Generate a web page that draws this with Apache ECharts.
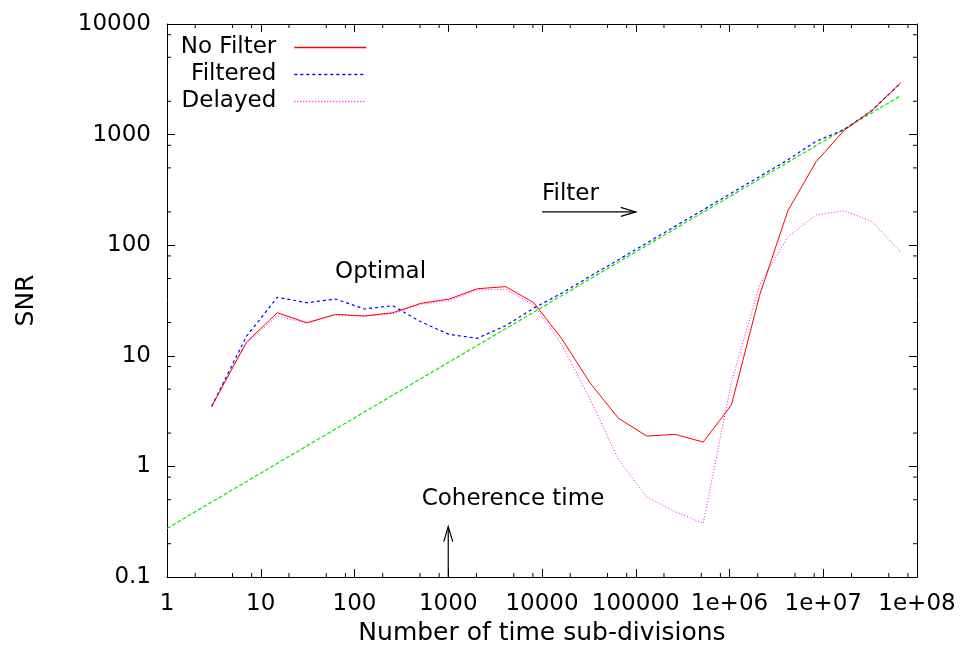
<!DOCTYPE html>
<html>
<head>
<meta charset="utf-8">
<script src="https://cdn.jsdelivr.net/npm/echarts@6/dist/echarts.min.js"></script>
<style>html,body{margin:0;padding:0;background:#fff;}#main{width:961px;height:658px;}</style>
</head>
<body>
<div id="main"></div>
<script>
// ---- data ----
const xValues = [3, 7, 15, 31, 63, 127, 255, 511, 1023, 2047, 4095, 8191, 16383, 32767, 65535,
  131071, 262143, 524287, 1048575, 2097151, 4194303, 8388607, 16777215, 33554431, 67108863];
const noFilter = [3.5, 13.2, 24.5, 19.9, 23.7, 22.9, 24.5, 29.8, 32.6, 40.4, 42.2, 30.2, 14.1, 5.64, 2.72,
  1.88, 1.95, 1.66, 3.59, 35.4, 205, 569, 1097, 1668, 2944];
const filtered = [3.5, 14.9, 33.8, 30.2, 32.6, 26.5, 28.4, 20.3, 15.6, 14.4, 18.7, 27, 37, 52.5, 74,
  104.5, 148, 209, 296, 418, 592, 870, 1110, 1670, 2944];
const delayed = [3.5, 13, 22.9, 19.7, 23.4, 22.9, 24, 29.2, 31.5, 39.4, 39.9, 28.8, 12.5, 4.0, 1.15,
  0.53, 0.39, 0.306, 5.8, 44, 119, 188, 205, 163, 86];
const refX = [1, 67108863];
const refY = [0.275, 2250];
const seriesNames = ['No Filter', 'Filtered', 'Delayed'];
const xTickLabels = ['1', '10', '100', '1000', '10000', '100000', '1e+06', '1e+07', '1e+08'];
const yTickLabels = ['0.1', '1', '10', '100', '1000', '10000'];
const xMinorTicks = [2, 5, 8, 20, 50, 80, 200, 500, 800, 2000, 5000, 8000, 2e4, 5e4, 8e4,
  2e5, 5e5, 8e5, 2e6, 5e6, 8e6, 2e7, 5e7, 8e7];
const yMinorTicks = [0.2, 0.5, 0.8, 2, 5, 8, 20, 50, 80, 200, 500, 800, 2000, 5000, 8000];
const xTitle = 'Number of time sub-divisions';
const yTitle = 'SNR';
// annotations: [x, y] in data coordinates
const labelOptimal = {text: 'Optimal', at: [62, 57.6]};
const labelFilter = {text: 'Filter', at: [10000, 290]};
const labelCoherence = {text: 'Coherence time', at: [521, 0.502]};
const arrowFilter = [[10000, 200], [100000, 200]];
const arrowCoherence = [[1000, 0.1], [1000, 0.285]];

// ---- styles ----
const FONT = '"DejaVu Sans", sans-serif';
const styles = [
  {color: '#ff0000', width: 1, type: 'solid'},
  {color: '#0000ff', width: 1.2, type: [3, 3]},
  {color: '#ff00ff', width: 1, type: [1, 2]},
  {color: '#00ee00', width: 1.2, type: [4, 2]}
];

const pairs = (xs, ys) => xs.map((x, i) => [x, ys[i]]);
function xFmt(v) {
  const e = Math.round(Math.log10(v));
  return xTickLabels[e] !== undefined ? xTickLabels[e] : String(v);
}
function yFmt(v) {
  const e = Math.round(Math.log10(v)) + 1;
  return yTickLabels[e] !== undefined ? yTickLabels[e] : String(v);
}
const axisCommon = {
  type: 'log', logBase: 10,
  axisLine: {show: true, onZero: false, lineStyle: {color: '#000', width: 1}},
  axisTick: {show: true, inside: true, length: 8, lineStyle: {color: '#000', width: 1}},
  splitLine: {show: false},
  minorTick: {show: false},
};
const chart = echarts.init(document.getElementById('main'), null, {renderer: 'canvas'});

function tickRender(isX) {
  return function (params, api) {
    const v = isX ? api.value(0) : api.value(1);
    let a, b;
    if (isX) {
      a = api.coord([v, 0.1]); b = api.coord([v, 10000]);
      return {type: 'group', children: [
        {type: 'line', shape: {x1: a[0], y1: a[1], x2: a[0], y2: a[1] - 4}, style: {stroke: '#000', lineWidth: 1}},
        {type: 'line', shape: {x1: b[0], y1: b[1], x2: b[0], y2: b[1] + 4}, style: {stroke: '#000', lineWidth: 1}}
      ]};
    } else {
      a = api.coord([1, v]); b = api.coord([1e8, v]);
      return {type: 'group', children: [
        {type: 'line', shape: {x1: a[0], y1: a[1], x2: a[0] + 4, y2: a[1]}, style: {stroke: '#000', lineWidth: 1}},
        {type: 'line', shape: {x1: b[0], y1: b[1], x2: b[0] - 4, y2: b[1]}, style: {stroke: '#000', lineWidth: 1}}
      ]};
    }
  };
}

const legendBase = {
  orient: 'vertical', align: 'right', right: 594, itemWidth: 72, itemHeight: 14,
  itemGap: 0, padding: 0,
  itemStyle: {color: 'rgba(0,0,0,0)', borderColor: 'rgba(0,0,0,0)', borderWidth: 0},
  textStyle: {fontFamily: FONT, fontSize: 23, color: '#000', padding: [0, 13, 0, 0]},
  selectedMode: false
};
function legendItem(i, top) {
  return Object.assign({}, legendBase, {
    top: top,
    data: [{name: seriesNames[i], lineStyle: {color: styles[i].color, width: 1.4, type: styles[i].type, opacity: 1}}]
  });
}

const option = {
  animation: false,
  backgroundColor: '#fff',
  grid: {left: 167, right: 44, top: 24, bottom: 81, containLabel: false},
  legend: [legendItem(0, 36), legendItem(1, 63), legendItem(2, 90)],
  xAxis: [
    Object.assign({}, axisCommon, {
      position: 'bottom', min: 1, max: 1e8, splitNumber: 8,
      name: xTitle, nameLocation: 'middle', nameGap: 38,
      nameTextStyle: {fontFamily: FONT, fontSize: 25, color: '#000'},
      axisLabel: {show: true, formatter: xFmt, fontFamily: FONT, fontSize: 23, color: '#000', margin: 16}
    }),
    Object.assign({}, axisCommon, {
      position: 'top', min: 1, max: 1e8, splitNumber: 8, axisLabel: {show: false}
    })
  ],
  yAxis: [
    Object.assign({}, axisCommon, {
      position: 'left', min: 0.1, max: 10000, splitNumber: 5,
      name: yTitle, nameLocation: 'middle', nameGap: 128, nameRotate: 90,
      nameTextStyle: {fontFamily: FONT, fontSize: 25, color: '#000'},
      axisLabel: {show: true, formatter: yFmt, fontFamily: FONT, fontSize: 23, color: '#000', margin: 16}
    }),
    Object.assign({}, axisCommon, {
      position: 'right', min: 0.1, max: 10000, splitNumber: 5, axisLabel: {show: false}
    })
  ],
  series: [
    {name: seriesNames[0], type: 'line', data: pairs(xValues, noFilter), symbol: 'none',
      lineStyle: styles[0], itemStyle: {color: styles[0].color}, z: 5},
    {name: seriesNames[1], type: 'line', data: pairs(xValues, filtered), symbol: 'none',
      lineStyle: styles[1], itemStyle: {color: styles[1].color}, z: 4},
    {name: seriesNames[2], type: 'line', data: pairs(xValues, delayed), symbol: 'none',
      lineStyle: styles[2], itemStyle: {color: styles[2].color}, z: 3},
    {name: 'reference', type: 'line', data: pairs(refX, refY), symbol: 'none',
      lineStyle: styles[3], itemStyle: {color: styles[3].color}, z: 2},
    {name: 'xminor', type: 'custom', data: xMinorTicks.map(v => [v, 1]), encode: {x: 0, y: 1},
      renderItem: tickRender(true), silent: true, clip: false, z: 10},
    {name: 'yminor', type: 'custom', data: yMinorTicks.map(v => [1, v]), encode: {x: 0, y: 1},
      renderItem: tickRender(false), silent: true, clip: false, z: 10}
  ]
};
chart.setOption(option);

function px(p) { return chart.convertToPixel({xAxisIndex: 0, yAxisIndex: 0}, p); }
function textEl(lbl) {
  const p = px(lbl.at);
  return {type: 'text', x: p[0], y: p[1], z: 20,
    style: {text: lbl.text, font: '23px ' + FONT, fill: '#000', align: 'left', verticalAlign: 'middle'}};
}
function arrowEls(arr) {
  const a = px(arr[0]), b = px(arr[1]);
  const dx = b[0] - a[0], dy = b[1] - a[1];
  const len = Math.sqrt(dx * dx + dy * dy);
  const ux = dx / len, uy = dy / len;
  const hl = 15, hw = 4.5;
  const bx = b[0] - ux * hl, by = b[1] - uy * hl;
  return [
    {type: 'line', z: 20, shape: {x1: a[0], y1: a[1], x2: b[0], y2: b[1]}, style: {stroke: '#000', lineWidth: 1.2}},
    {type: 'polyline', z: 20, shape: {points: [[bx - uy * hw, by + ux * hw], b, [bx + uy * hw, by - ux * hw]]},
      style: {stroke: '#000', lineWidth: 1.2, fill: null}}
  ];
}
chart.setOption({
  graphic: [textEl(labelOptimal), textEl(labelFilter), textEl(labelCoherence)]
    .concat(arrowEls(arrowFilter)).concat(arrowEls(arrowCoherence))
});
</script>
</body>
</html>
